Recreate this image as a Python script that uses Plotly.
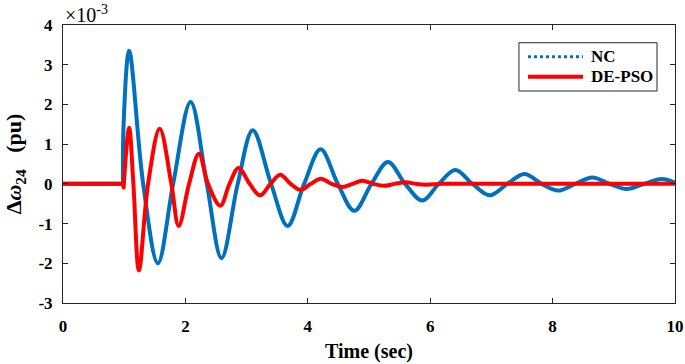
import plotly.graph_objects as go

# NC response (values in units of 1e-3 pu)
nc_t = [0, 0.98, 0.99, 1.08, 1.31, 1.55, 1.80, 2.085, 2.35, 2.59, 2.855, 3.10, 3.40, 3.67,
        3.94, 4.21, 4.49, 4.76, 5.04, 5.31, 5.59, 5.87, 6.14, 6.41, 6.69, 6.97, 7.26,
        7.54, 7.82, 8.09, 8.37, 8.65, 8.93, 9.21, 9.50, 9.78, 10.0]
nc_v = [0, 0, 1.50, 3.35, 0, -2.00, 0, 2.06, 0, -1.87, 0, 1.35, 0, -1.06,
        0, 0.87, 0, -0.68, 0, 0.55, 0, -0.42, 0, 0.35, 0, -0.29, 0,
        0.25, 0, -0.17, 0, 0.16, 0, -0.13, 0, 0.12, 0.03]

# DE-PSO response (values in units of 1e-3 pu)
de_t = [0, 0.98, 0.99, 1.00, 1.08, 1.15, 1.24, 1.39, 1.58, 1.77, 1.89, 2.06, 2.22, 2.37,
        2.57, 2.72, 2.87, 3.05, 3.22, 3.39, 3.55, 3.72, 3.88, 4.05, 4.21, 4.39, 4.57,
        4.73, 4.89, 5.07, 5.24, 5.42, 5.60, 5.77, 5.93, 6.20, 7.0, 8.0, 9.0, 10.0]
de_v = [0, 0, -0.10, 0.15, 1.41, 0, -2.18, 0, 1.39, 0, -1.06, 0, 0.76, 0,
        -0.55, 0, 0.40, 0, -0.29, 0, 0.23, 0, -0.15, 0, 0.13, 0, -0.08,
        0, 0.08, 0, -0.05, 0, 0.04, 0, -0.02, 0, 0, 0, 0, 0]

x_ticks = [0, 2, 4, 6, 8, 10]
y_ticks = [-3, -2, -1, 0, 1, 2, 3, 4]
series_names = ["NC", "DE-PSO"]

BLUE = "#0072BD"
RED = "#FF0000"
AX = "#262626"
FONT = "Liberation Serif"

fig = go.Figure()
# flat pre-disturbance parts (linear) and oscillating parts (smooth)
fig.add_trace(go.Scatter(x=nc_t[:2], y=nc_v[:2], mode="lines", showlegend=False,
                         line=dict(color=BLUE, width=4)))
fig.add_trace(go.Scatter(x=nc_t[1:], y=nc_v[1:], mode="lines", showlegend=False,
                         line=dict(color=BLUE, width=4, shape="spline", smoothing=1.0)))
fig.add_trace(go.Scatter(x=de_t[:2], y=de_v[:2], mode="lines", showlegend=False,
                         line=dict(color=RED, width=4)))
fig.add_trace(go.Scatter(x=de_t[1:], y=de_v[1:], mode="lines", showlegend=False,
                         line=dict(color=RED, width=4, shape="spline", smoothing=1.0)))

axis_common = dict(showgrid=False, zeroline=False, showline=True, linecolor=AX,
                   linewidth=1, mirror="ticks", ticks="inside", ticklen=5,
                   tickcolor=AX, automargin=False, ticklabeloverflow="allow",
                   tickfont=dict(family=FONT, size=17, color="black"))

fig.update_xaxes(range=[0, 10], tickvals=x_ticks,
                 ticktext=[f"<b>{v}</b>" for v in x_ticks], ticklabelstandoff=8,
                 title=dict(text="<b>Time (sec)</b>", font=dict(family=FONT, size=20, color="black"),
                            standoff=8),
                 **axis_common)
fig.update_yaxes(range=[-3, 4], tickvals=y_ticks,
                 ticktext=[f"<b>{v}</b>" for v in y_ticks], ticklabelstandoff=6,
                 title=dict(text="<b>Δ<i>ω</i><sub>24</sub>   (pu)</b>",
                            font=dict(family=FONT, size=22, color="black"), standoff=10),
                 **axis_common)

fig.add_annotation(text="×10<sup>-3</sup>", xref="paper", yref="paper", x=0.0, y=1.0,
                   xanchor="left", yanchor="bottom", showarrow=False, yshift=-3,
                   font=dict(family=FONT, size=20, color="black"))

# hand-drawn legend box (MATLAB style)
fig.add_shape(type="rect", xref="paper", yref="paper", x0=0.745, x1=0.9706, y0=0.7626, y1=0.9363,
              line=dict(color=AX, width=1), fillcolor="white", layer="above")
fig.add_shape(type="line", xref="paper", yref="paper", x0=0.7598, x1=0.8497, y0=0.886, y1=0.886,
              line=dict(color=BLUE, width=3, dash="dot"), layer="above")
fig.add_shape(type="line", xref="paper", yref="paper", x0=0.7598, x1=0.8497, y0=0.814, y1=0.814,
              line=dict(color=RED, width=4), layer="above")
for name, yy in zip(series_names, [0.886, 0.814]):
    fig.add_annotation(text=f"<b>{name}</b>", xref="paper", yref="paper", x=0.8595, y=yy,
                       xanchor="left", yanchor="middle", showarrow=False,
                       font=dict(family=FONT, size=17, color="black"))

fig.update_layout(
    width=685, height=364,
    margin=dict(l=63, r=10, t=25, b=61),
    paper_bgcolor="white", plot_bgcolor="white",
    showlegend=False,
)

fig.write_html("out.html", config={"displayModeBar": False},
               post_script="document.body.style.margin='0px';document.body.style.overflow='hidden';")
